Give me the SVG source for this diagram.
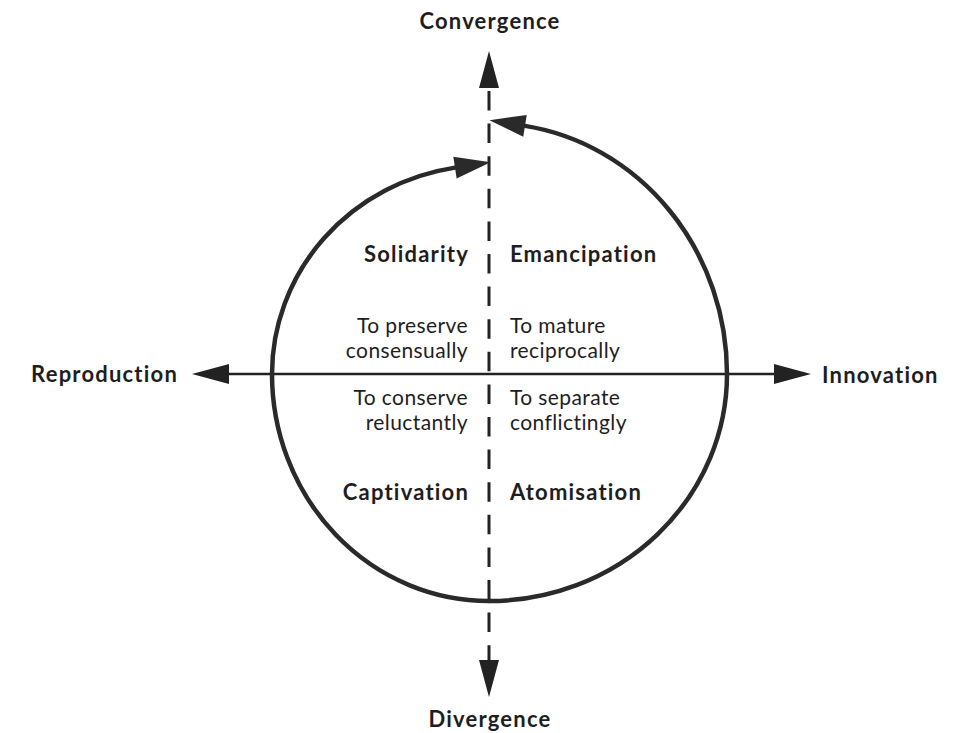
<svg xmlns="http://www.w3.org/2000/svg" width="955" height="733" viewBox="0 0 955 733">
<style>
.t{font-family:Lato,"Open Sans","Liberation Sans",sans-serif;fill:#1e1e1e}
.b{font-weight:bold;font-size:22px;letter-spacing:1.2px}
.r{font-size:21px;letter-spacing:0.4px}
.big{font-weight:bold;font-size:22px;letter-spacing:1.2px}
.axis{stroke:#222;stroke-width:2.5;fill:none}
.dash{stroke:#222;stroke-width:3;fill:none;stroke-dasharray:19.5 13.1;stroke-dashoffset:29.6}
.loop{stroke:#2a2a2a;stroke-width:4.5;fill:none;stroke-linecap:round}
</style>
<defs>
<marker id="ax" markerUnits="userSpaceOnUse" markerWidth="40" markerHeight="24" viewBox="0 -12 40 24" refX="0" refY="0" orient="auto-start-reverse" overflow="visible">
<path d="M0,-10 L37,0 L0,10 z" fill="#222"/>
</marker>
<marker id="lp" markerUnits="userSpaceOnUse" markerWidth="40" markerHeight="26" viewBox="0 -13 40 26" refX="0" refY="0" orient="auto" overflow="visible">
<path d="M0,-11 L36,0 L0,11 z" fill="#2a2a2a"/>
</marker>
</defs>
<g id="connectors">
<path class="axis" d="M229,374 H774" marker-start="url(#ax)" marker-end="url(#ax)"/>
<path class="dash" d="M489,88 V660" marker-start="url(#ax)" marker-end="url(#ax)"/>
<path class="loop" d="M489,601 A217 227 0 0 1 272,374 A217 209 0 0 1 455,167.6" marker-end="url(#lp)"/>
<path class="loop" d="M489,601 A238 227 0 0 0 727,374 A238 251 0 0 0 525,125.9" marker-end="url(#lp)"/>
</g>
<g id="convergence"><text class="t big" x="490" y="29" text-anchor="middle">Convergence</text></g>
<g id="divergence"><text class="t big" x="490" y="727" text-anchor="middle">Divergence</text></g>
<g id="reproduction"><text class="t big" x="178" y="382" text-anchor="end">Reproduction</text></g>
<g id="innovation"><text class="t big" x="822" y="383">Innovation</text></g>
<g id="solidarity">
<text class="t b" x="469" y="262" text-anchor="end">Solidarity</text>
<text class="t r" x="468" y="333" text-anchor="end">To preserve</text>
<text class="t r" x="468" y="358" text-anchor="end">consensually</text>
</g>
<g id="emancipation">
<text class="t b" x="510" y="262">Emancipation</text>
<text class="t r" x="510" y="333">To mature</text>
<text class="t r" x="510" y="358">reciprocally</text>
</g>
<g id="captivation">
<text class="t r" x="468" y="405" text-anchor="end">To conserve</text>
<text class="t r" x="468" y="430" text-anchor="end">reluctantly</text>
<text class="t b" x="469" y="500" text-anchor="end">Captivation</text>
</g>
<g id="atomisation">
<text class="t r" x="510" y="405">To separate</text>
<text class="t r" x="510" y="430">conflictingly</text>
<text class="t b" x="510" y="500">Atomisation</text>
</g>
</svg>
